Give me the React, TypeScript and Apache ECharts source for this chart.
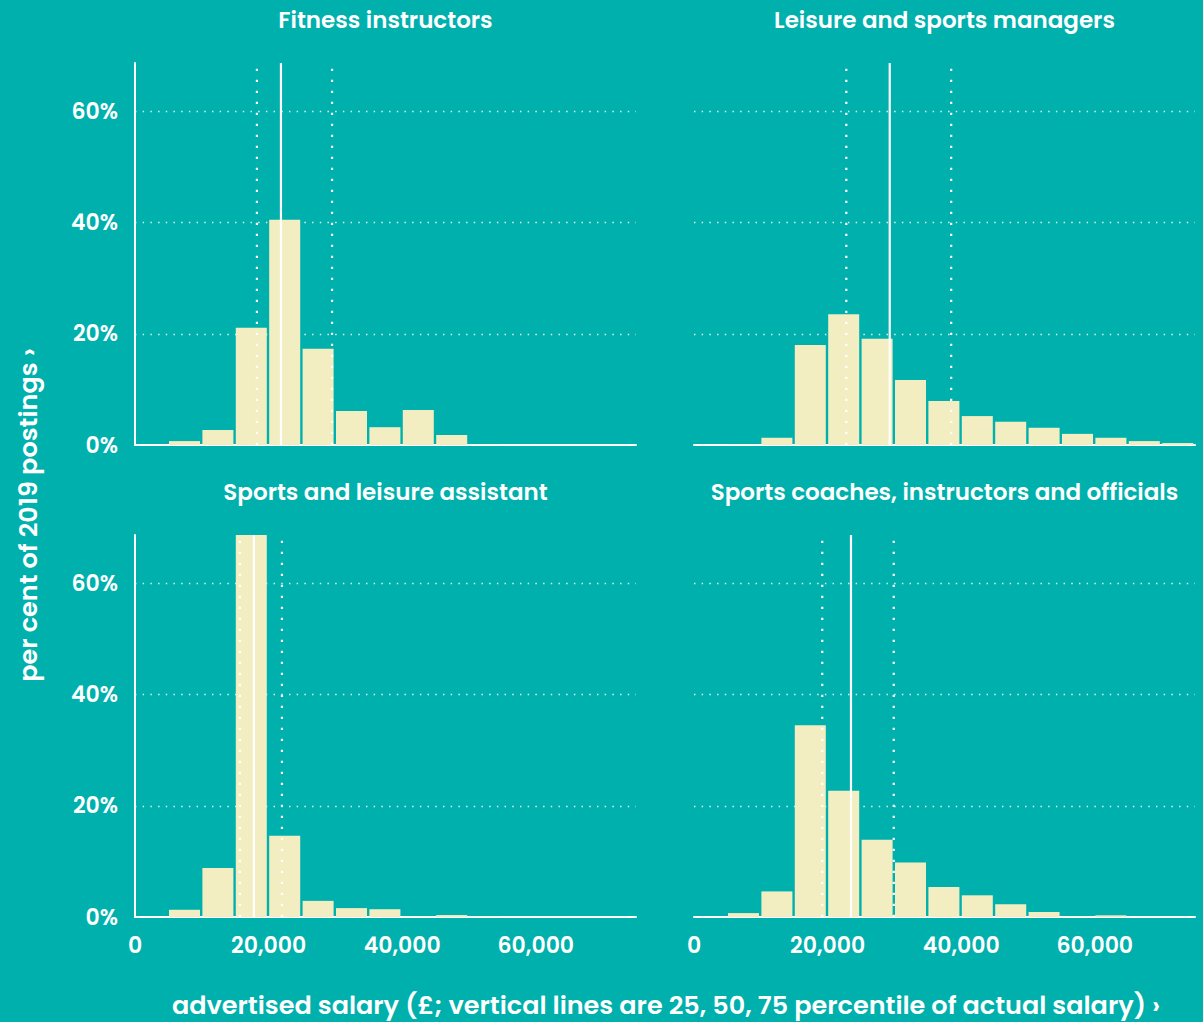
import React, { useEffect, useRef } from "react";
import * as echarts from "echarts";

// ---------- data ----------
const BIN_STARTS = [0, 5000, 10000, 15000, 20000, 25000, 30000, 35000, 40000, 45000, 50000, 55000, 60000, 65000, 70000];
const BIN_WIDTH = 5000;

const PANEL_TITLES = [
  "Fitness instructors",
  "Leisure and sports managers",
  "Sports and leisure assistant",
  "Sports coaches, instructors and officials",
];

const FITNESS_INSTRUCTORS = [0, 0.7, 2.7, 21.1, 40.5, 17.3, 6.1, 3.2, 6.3, 1.8, 0.1, 0.05, 0.05, 0.05, 0.05];
const LEISURE_MANAGERS = [0, 0.1, 1.3, 18.0, 23.5, 19.1, 11.7, 7.9, 5.2, 4.2, 3.1, 2.0, 1.3, 0.7, 0.35];
const LEISURE_ASSISTANT = [0, 1.3, 8.8, 68.7, 14.6, 2.9, 1.6, 1.4, 0.1, 0.35, 0.1, 0.05, 0.05, 0.05, 0.05];
const SPORTS_COACHES = [0, 0.7, 4.6, 34.5, 22.7, 13.9, 9.8, 5.4, 3.9, 2.3, 0.9, 0.1, 0.3, 0.05, 0];

// 25th, 50th, 75th percentile of actual salary
const PCT_FITNESS = [18250, 21850, 29500];
const PCT_MANAGERS = [22800, 29300, 38500];
const PCT_ASSISTANT = [15700, 17800, 22000];
const PCT_COACHES = [19200, 23500, 29900];

const Y_TICKS_LABEL = "{value}%";
const X_MAX = 75000;
const Y_MAX = 68.7;

const X_TITLE = "advertised salary (£; vertical lines are 25, 50, 75 percentile of actual salary) ›";
const Y_TITLE = "per cent of 2019 postings ›";

// ---------- style ----------
const BG = "#00B0AD";
const BAR = "#F3EEC1";
const WHITE = "#FFFFFF";
const FONT = "Poppins, Inter, 'Open Sans', sans-serif";

const PANELS = [
  { title: PANEL_TITLES[0], values: FITNESS_INSTRUCTORS, pct: PCT_FITNESS },
  { title: PANEL_TITLES[1], values: LEISURE_MANAGERS, pct: PCT_MANAGERS },
  { title: PANEL_TITLES[2], values: LEISURE_ASSISTANT, pct: PCT_ASSISTANT },
  { title: PANEL_TITLES[3], values: SPORTS_COACHES, pct: PCT_COACHES },
];

const GRIDS = [
  { left: 135, top: 63, width: 501, height: 382 },
  { left: 694, top: 63, width: 501, height: 382 },
  { left: 135, top: 535, width: 501, height: 382 },
  { left: 694, top: 535, width: 501, height: 382 },
];

function buildOption(): any {
  const xAxis: any[] = [];
  const yAxis: any[] = [];
  const series: any[] = [];
  const graphic: any[] = [];

  PANELS.forEach((p, i) => {
    const isLeft = i % 2 === 0;
    const isBottom = i >= 2;
    xAxis.push({
      type: "value",
      gridIndex: i,
      min: 0,
      max: X_MAX,
      interval: 20000,
      axisLine: { show: true, onZero: false, lineStyle: { color: WHITE, width: 2 } },
      axisTick: { show: false },
      splitLine: { show: false },
      axisLabel: {
        show: isBottom,
        showMaxLabel: false,
        color: WHITE,
        fontSize: 22,
        fontWeight: 600,
        fontFamily: FONT,
        margin: 17,
        formatter: (v: number) => v.toLocaleString("en-US"),
      },
    });
    yAxis.push({
      type: "value",
      gridIndex: i,
      min: 0,
      max: Y_MAX,
      interval: 20,
      axisLine: { show: isLeft, onZero: false, lineStyle: { color: WHITE, width: 2 } },
      axisTick: { show: false },
      axisLabel: {
        show: isLeft,
        showMaxLabel: false,
        color: WHITE,
        fontSize: 22,
        fontWeight: 600,
        fontFamily: FONT,
        margin: 17,
        formatter: Y_TICKS_LABEL,
      },
      splitLine: {
        show: true,
        showMinLine: false,
        showMaxLine: false,
        lineStyle: { color: "rgba(255,255,255,0.9)", width: 1.4, type: [1.4, 6.3] },
      },
    });

    series.push({
      type: "custom",
      xAxisIndex: i,
      yAxisIndex: i,
      clip: true,
      z: 2,
      data: BIN_STARTS.map((s, j) => [s, s + BIN_WIDTH, p.values[j]]),
      encode: { x: [0, 1], y: 2 },
      renderItem: (params: any, api: any) => {
        const x0 = api.value(0);
        const x1 = api.value(1);
        const v = api.value(2);
        const a = api.coord([x0, v]);
        const b = api.coord([x1, 0]);
        return {
          type: "rect",
          shape: { x: a[0] + 0.6, y: a[1], width: b[0] - a[0] - 2.4, height: b[1] - a[1] },
          style: { fill: BAR },
        };
      },
    });

    p.pct.forEach((val, k) => {
      series.push({
        type: "line",
        xAxisIndex: i,
        yAxisIndex: i,
        z: 5,
        symbol: "none",
        silent: true,
        data: [
          [val, 0],
          [val, Y_MAX],
        ],
        lineStyle:
          k === 1
            ? { color: WHITE, width: 2.2, type: "solid" }
            : { color: WHITE, width: 2.2, type: [2.2, 8.8] },
      });
    });

    const g = GRIDS[i];
    graphic.push({
      type: "text",
      x: g.left + g.width / 2,
      y: g.top - 43,
      style: {
        text: p.title,
        fill: WHITE,
        font: `600 23px ${FONT}`,
        textAlign: "center",
        textVerticalAlign: "middle",
      },
    });
  });

  graphic.push({
    type: "text",
    x: 666,
    y: 1005,
    style: {
      text: X_TITLE,
      fill: WHITE,
      font: `600 25.5px ${FONT}`,
      textAlign: "center",
      textVerticalAlign: "middle",
    },
  });
  graphic.push({
    type: "text",
    x: 28,
    y: 515,
    rotation: Math.PI / 2,
    style: {
      text: Y_TITLE,
      fill: WHITE,
      font: `600 25.5px ${FONT}`,
      textAlign: "center",
      textVerticalAlign: "middle",
    },
  });

  return {
    animation: false,
    backgroundColor: BG,
    textStyle: { fontFamily: FONT },
    grid: GRIDS.map((g) => ({ ...g, containLabel: false })),
    xAxis,
    yAxis,
    series,
    graphic,
  };
}

export default function App() {
  const ref = useRef<HTMLDivElement>(null);
  useEffect(() => {
    if (!ref.current) return;
    const chart = echarts.init(ref.current, undefined, { renderer: "svg" });
    chart.setOption(buildOption());
    return () => chart.dispose();
  }, []);
  return (
    <div
      ref={ref}
      style={{ position: "fixed", left: 0, top: 0, width: 1203, height: 1022 }}
    />
  );
}
